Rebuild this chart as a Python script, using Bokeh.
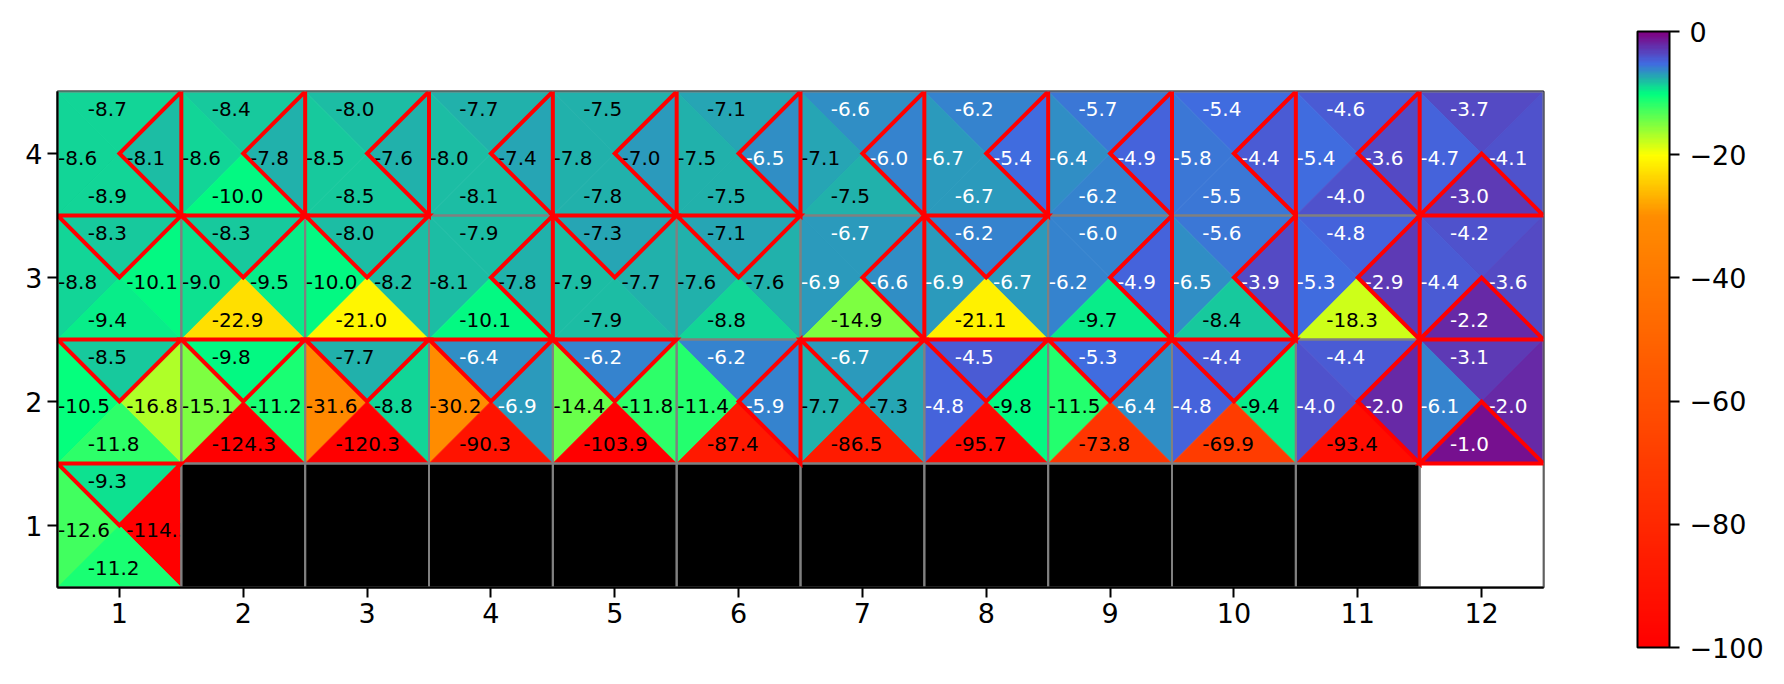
import numpy as np
from bokeh.plotting import figure
from bokeh.models import ColumnDataSource, LinearColorMapper, FixedTicker, Range1d, ColorBar
from bokeh.embed import file_html
from bokeh.resources import INLINE
from bokeh.core.properties import value
from bokeh.transform import transform

# ---------------- data ----------------
columns = list(range(1, 13))
row_ids = [1, 2, 3, 4]
x_tick_labels = [str(c) for c in columns]
y_tick_labels = [str(r) for r in row_ids]
cbar_ticks = [-100, -80, -60, -40, -20, 0]

# Q-values per action, keyed by grid row, listed by column
q_up = {
    4: [-8.7, -8.4, -8.0, -7.7, -7.5, -7.1, -6.6, -6.2, -5.7, -5.4, -4.6, -3.7],
    3: [-8.3, -8.3, -8.0, -7.9, -7.3, -7.1, -6.7, -6.2, -6.0, -5.6, -4.8, -4.2],
    2: [-8.5, -9.8, -7.7, -6.4, -6.2, -6.2, -6.7, -4.5, -5.3, -4.4, -4.4, -3.1],
    1: [-9.3],
}
q_left = {
    4: [-8.6, -8.6, -8.5, -8.0, -7.8, -7.5, -7.1, -6.7, -6.4, -5.8, -5.4, -4.7],
    3: [-8.8, -9.0, -10.0, -8.1, -7.9, -7.6, -6.9, -6.9, -6.2, -6.5, -5.3, -4.4],
    2: [-10.5, -15.1, -31.6, -30.2, -14.4, -11.4, -7.7, -4.8, -11.5, -4.8, -4.0, -6.1],
    1: [-12.6],
}
q_right = {
    4: [-8.1, -7.8, -7.6, -7.4, -7.0, -6.5, -6.0, -5.4, -4.9, -4.4, -3.6, -4.1],
    3: [-10.1, -9.5, -8.2, -7.8, -7.7, -7.6, -6.6, -6.7, -4.9, -3.9, -2.9, -3.6],
    2: [-16.8, -11.2, -8.8, -6.9, -11.8, -5.9, -7.3, -9.8, -6.4, -9.4, -2.0, -2.0],
    1: [-114.5],
}
q_down = {
    4: [-8.9, -10.0, -8.5, -8.1, -7.8, -7.5, -7.5, -6.7, -6.2, -5.5, -4.0, -3.0],
    3: [-9.4, -22.9, -21.0, -10.1, -7.9, -8.8, -14.9, -21.1, -9.7, -8.4, -18.3, -2.2],
    2: [-11.8, -124.3, -120.3, -90.3, -103.9, -87.4, -86.5, -95.7, -73.8, -69.9, -93.4, -1.0],
    1: [-11.2],
}
cliff_columns = [2, 3, 4, 5, 6, 7, 8, 9, 10, 11]
cliff_row = 1
goal_column = 12
goal_row = 1

# ---------------- colormap ----------------
cmap_nodes = [(-100, "#ff0000"), (-30, "#ff8c00"), (-20, "#ffff00"), (-10, "#00ff7f"),
              (-7.5, "#20b2aa"), (-5, "#4169e1"), (0, "#800080")]


def hex2rgb(h):
    return np.array([int(h[i:i + 2], 16) for i in (1, 3, 5)], dtype=float)


def build_palette(n=256):
    vals = np.array([v for v, _ in cmap_nodes], dtype=float)
    rgbs = np.array([hex2rgb(c) for _, c in cmap_nodes])
    out = []
    for t in np.linspace(vals[0], vals[-1], n):
        r = np.interp(t, vals, rgbs[:, 0])
        g = np.interp(t, vals, rgbs[:, 1])
        b = np.interp(t, vals, rgbs[:, 2])
        out.append("#%02x%02x%02x" % (int(round(r)), int(round(g)), int(round(b))))
    return out


palette = build_palette()
mapper = LinearColorMapper(palette=palette, low=-100, high=0)

# ---------------- geometry ----------------
H = 0.5
actions = [("up", q_up), ("left", q_left), ("right", q_right), ("down", q_down)]
text_off = {"up": (-0.255, 0.355), "left": (-0.495, -0.04),
            "right": (0.055, -0.04), "down": (-0.255, -0.34)}


def tri(name, cx, cy):
    if name == "up":
        return [cx - H, cx + H, cx], [cy + H, cy + H, cy]
    if name == "down":
        return [cx - H, cx + H, cx], [cy - H, cy - H, cy]
    if name == "left":
        return [cx - H, cx - H, cx], [cy - H, cy + H, cy]
    return [cx + H, cx + H, cx], [cy - H, cy + H, cy]


xs, ys, qs = [], [], []
tx, ty, tt, tc = [], [], [], []
bxs, bys = [], []
for r in row_ids:
    ncol = len(q_up[r])
    for i in range(ncol):
        cx, cy = columns[i], r
        best = max(range(4), key=lambda k: actions[k][1][r][i])
        for k, (name, table) in enumerate(actions):
            v = table[r][i]
            px, py = tri(name, cx, cy)
            xs.append(px)
            ys.append(py)
            qs.append(v)
            dx, dy = text_off[name]
            tx.append(cx + dx)
            ty.append(cy + dy)
            tt.append("%.1f" % v)
            tc.append("white" if v > -6.95 else "black")
            if k == best:
                bxs.append(px)
                bys.append(py)

tri_src = ColumnDataSource(dict(xs=xs, ys=ys, q=qs))
txt_src = ColumnDataSource(dict(x=tx, y=ty, t=tt, c=tc))
best_src = ColumnDataSource(dict(xs=bxs, ys=bys))

# ---------------- main figure ----------------
FONT = "DejaVu Sans"
p = figure(width=1784, height=684, x_range=Range1d(0.5, 12.5), y_range=Range1d(0.5, 4.5),
           output_backend="svg", toolbar_location=None,
           min_border_left=57, min_border_right=241, min_border_top=91, min_border_bottom=97)
p.grid.visible = False
p.outline_line_color = "black"
p.outline_line_width = 2
p.background_fill_color = "white"
p.border_fill_color = "white"

fill = transform("q", mapper)
p.patches("xs", "ys", source=tri_src, fill_color=fill, line_color=fill, line_width=0.8)
p.text("x", "y", text="t", source=txt_src, text_color="c", text_font=value(FONT),
       text_font_size="20px", text_align="left", text_baseline="middle")

# cliff cells
p.rect(x=cliff_columns, y=[cliff_row] * len(cliff_columns), width=1, height=1,
       fill_color="black", line_color=None)
p.rect(x=[goal_column], y=[goal_row], width=1, height=1, fill_color="white", line_color=None)

# gray grid lines
gx = [c for r in row_ids for c in columns]
gy = [r for r in row_ids for c in columns]
p.rect(x=gx, y=gy, width=1, height=1, fill_color=None, line_color="#808080", line_width=2)

# best-action outlines
p.patches("xs", "ys", source=best_src, fill_color=None, line_color="#ff0000",
          line_width=4, line_join="miter")

for ax in (p.xaxis[0], p.yaxis[0]):
    ax.major_label_text_font = FONT
    ax.major_label_text_font_size = "27px"
    ax.major_label_text_color = "black"
    ax.major_tick_out = 10
    ax.major_tick_in = 0
    ax.minor_tick_out = 0
    ax.minor_tick_in = 0
    ax.major_tick_line_width = 2
    ax.major_tick_line_color = "black"
    ax.axis_line_width = 2
    ax.axis_line_color = "black"
    ax.major_label_standoff = 5
p.xaxis.ticker = FixedTicker(ticks=columns)
p.xaxis.major_label_overrides = {c: l for c, l in zip(columns, x_tick_labels)}
p.yaxis.ticker = FixedTicker(ticks=row_ids)
p.yaxis.major_label_overrides = {r: l for r, l in zip(row_ids, y_tick_labels)}

# ---------------- colorbar ----------------
cbar = ColorBar(color_mapper=mapper, orientation="vertical",
                location=(1637 - 57, 587 - 647), width=32, height=616,
                padding=0, margin=0,
                ticker=FixedTicker(ticks=cbar_ticks),
                major_label_overrides={t: str(t).replace("-", "\u2212") for t in cbar_ticks},
                major_label_text_font=FONT, major_label_text_font_size="27px",
                major_label_text_color="black",
                major_tick_out=10, major_tick_in=0, major_tick_line_color="black",
                major_tick_line_width=2, minor_tick_line_color=None,
                label_standoff=10, bar_line_color="black", bar_line_width=2,
                background_fill_color=None, border_line_color=None)
p.add_layout(cbar, "center")

open("out.html", "w").write(file_html(p, INLINE))
